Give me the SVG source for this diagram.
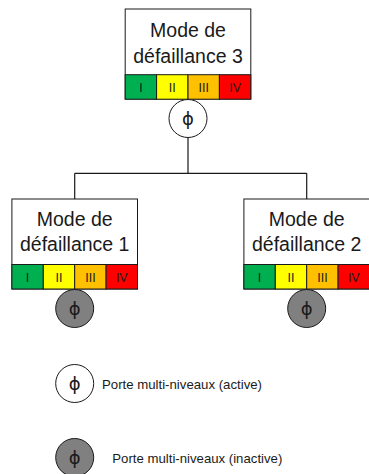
<svg xmlns="http://www.w3.org/2000/svg" width="369" height="474" viewBox="0 0 369 474">
<style>
.box{fill:#fff;stroke:#1a1a1a;stroke-width:1}
.t{font-family:"Liberation Sans",Arial,sans-serif;font-size:19.5px;fill:#1a1a1a;text-anchor:middle}
.n{font-family:"Liberation Sans",Arial,sans-serif;font-size:12.5px;fill:#1a1a1a;text-anchor:middle}
.g{fill:#00B050;stroke:#1a1a1a}
.y{fill:#FFFF00;stroke:#1a1a1a}
.o{fill:#FFC000;stroke:#1a1a1a}
.r{fill:#FF0000;stroke:#1a1a1a}
.act{fill:#fff;stroke:#1a1a1a;stroke-width:1}
.ina{fill:#808080;stroke:#1a1a1a;stroke-width:1}
.phi{font-family:"DejaVu Sans",sans-serif;font-size:18px;fill:#1a1a1a;text-anchor:middle;dominant-baseline:central}
.leg{font-family:"Liberation Sans",Arial,sans-serif;font-size:13.5px;fill:#1a1a1a}
.c{fill:none;stroke:#1a1a1a;stroke-width:1.2}
</style>
<defs>
<g id="bar">
<rect class="g" x="0" y="0" width="31.4" height="24.5"/>
<rect class="y" x="31.4" y="0" width="31.4" height="24.5"/>
<rect class="o" x="62.8" y="0" width="31.4" height="24.5"/>
<rect class="r" x="94.2" y="0" width="31.4" height="24.5"/>
<text class="n" x="15.7" y="17">I</text>
<text class="n" x="47.1" y="17">II</text>
<text class="n" x="78.5" y="17">III</text>
<text class="n" x="109.9" y="17">IV</text>
</g>
</defs>
<g id="connectors">
<path class="c" d="M188 137.5V173.3M74.7 173.3H306.7M74.7 173.3V199M306.7 173.3V199"/>
</g>
<g id="mode3">
<rect class="box" x="125.2" y="9" width="125.6" height="90"/>
<text class="t" x="188" y="36.7">Mode de</text>
<text class="t" x="188" y="63">défaillance 3</text>
<use href="#bar" x="125.2" y="74.7"/>
</g>
<g id="gate3">
<circle class="act" cx="188" cy="118.5" r="19"/>
<text class="phi" x="188" y="118.5">ϕ</text>
</g>
<g id="mode1">
<rect class="box" x="11.9" y="199" width="125.6" height="90"/>
<text class="t" x="74.7" y="226">Mode de</text>
<text class="t" x="74.7" y="251">défaillance 1</text>
<use href="#bar" x="11.9" y="264.5"/>
</g>
<g id="gate1">
<circle class="ina" cx="74.7" cy="308.5" r="19"/>
<text class="phi" x="74.7" y="308.5">ϕ</text>
</g>
<g id="mode2">
<rect class="box" x="243.9" y="199" width="125.6" height="90"/>
<text class="t" x="306.7" y="226">Mode de</text>
<text class="t" x="306.7" y="251">défaillance 2</text>
<use href="#bar" x="243.9" y="264.5"/>
</g>
<g id="gate2">
<circle class="ina" cx="306.7" cy="308.5" r="19"/>
<text class="phi" x="306.7" y="308.5">ϕ</text>
</g>
<g id="legend-active">
<circle class="act" cx="74.7" cy="383.5" r="19"/>
<text class="phi" x="74.7" y="383.5">ϕ</text>
<text class="leg" x="102" y="389" textLength="160" lengthAdjust="spacingAndGlyphs">Porte multi-niveaux (active)</text>
</g>
<g id="legend-inactive">
<circle class="ina" cx="74.7" cy="457.5" r="19"/>
<text class="phi" x="74.7" y="457.5">ϕ</text>
<text class="leg" x="112.3" y="463" textLength="170" lengthAdjust="spacingAndGlyphs">Porte multi-niveaux (inactive)</text>
</g>
</svg>
